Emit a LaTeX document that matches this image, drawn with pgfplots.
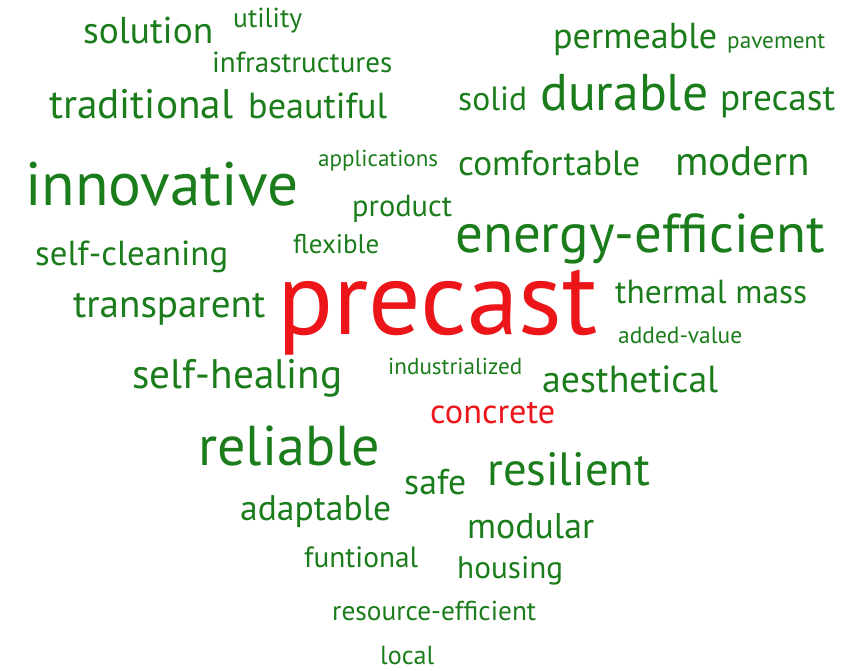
\documentclass[border=0pt]{standalone}
\usepackage{fontspec}
\setmainfont{PT Sans}
\usepackage{graphicx}
\usepackage{pgfplots}
\usepackage{pgfplotstable}
\pgfplotsset{compat=1.18}
\definecolor{wgreen}{RGB}{26,124,26}
\definecolor{wred}{RGB}{236,22,26}
\newcommand{\vf}{1.0}
\pgfplotstableread[col sep=comma]{
x,y,w,word
83,43,130,solution
233,27,69,utility
212,72,180,infrastructures
49,118,184,traditional
248,118,139,beautiful
25,205,273,innovative
318,166,120,applications
352,216,100,product
553,48,164,permeable
727,48,98,pavement
458,110,69,solid
540,110,168,durable
720,110,115,precast
458,175,182,comfortable
675,175,135,modern
455,252,370,energy-efficient
35,265,193,self-cleaning
293,253,86,flexible
73,317,192,transparent
132,388,210,self-healing
388,374,134,industrialized
615,303,192,thermal mass
618,343,124,added-value
542,392,176,aesthetical
198,465,182,reliable
404,494,62,safe
487,485,163,resilient
240,520,151,adaptable
467,538,127,modular
304,567,114,funtional
457,578,106,housing
332,620,204,resource-efficient
380,664,54,local
}\greenwords
\pgfplotstableread[col sep=comma]{
x,y,w,word
277,334,320,precast
430,423,125,concrete
}\redwords
\begin{document}
\begin{tikzpicture}
\begin{axis}[
  width=859pt, height=670pt, scale only axis,
  xmin=0, xmax=859, ymin=0, ymax=670,
  y dir=reverse, hide axis, clip=false, enlargelimits=false,
]
\addplot[draw=none, mark=none] coordinates {(0,0) (859,670)};
\addplot[draw=none, mark=none,
  visualization depends on={\thisrow{w}\as\ww},
  point meta=explicit symbolic,
  nodes near coords={\scalebox{1}[\vf]{\resizebox{\ww pt}{!}{\pgfplotspointmeta}}},
  nodes near coords style={anchor=base west, inner sep=0pt, text=wgreen},
] table[x=x, y=y, meta=word] {\greenwords};
\addplot[draw=none, mark=none,
  visualization depends on={\thisrow{w}\as\ww},
  point meta=explicit symbolic,
  nodes near coords={\scalebox{1}[\vf]{\resizebox{\ww pt}{!}{\pgfplotspointmeta}}},
  nodes near coords style={anchor=base west, inner sep=0pt, text=wred},
] table[x=x, y=y, meta=word] {\redwords};
\end{axis}
\end{tikzpicture}
\end{document}
